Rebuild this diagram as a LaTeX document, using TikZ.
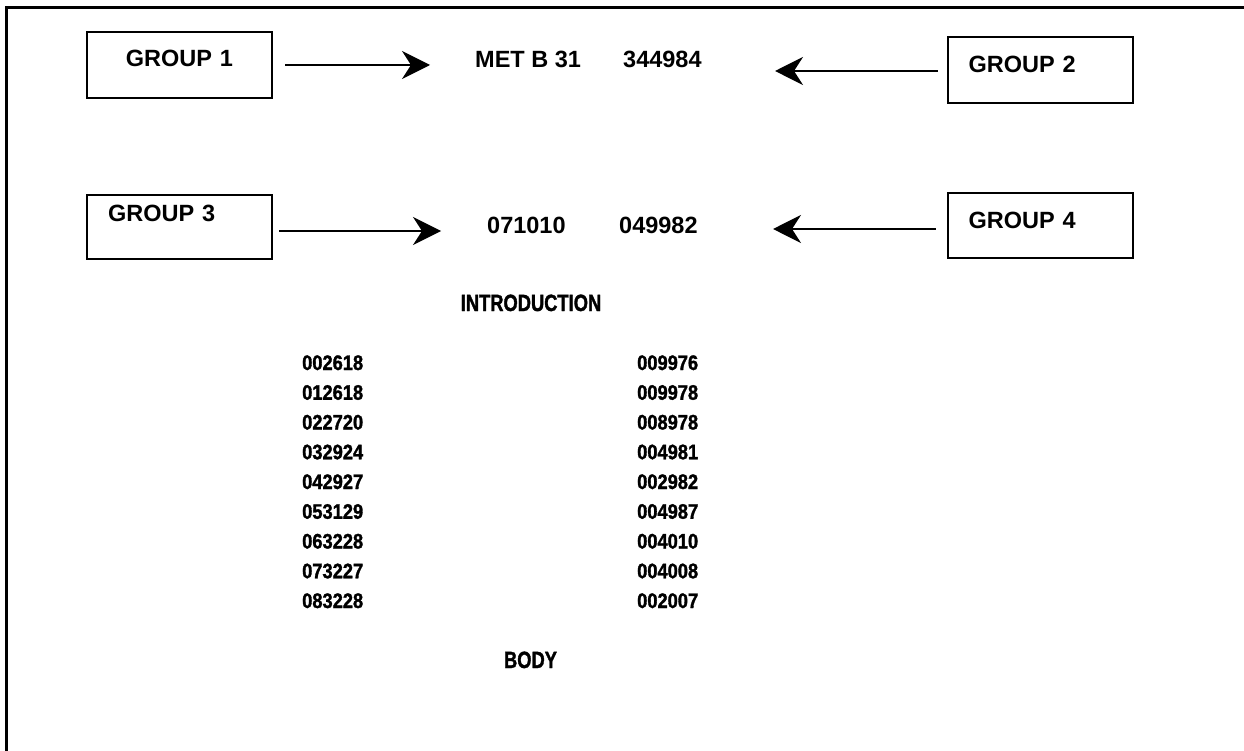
\documentclass[tikz,border=0pt]{standalone}
\usepackage{fontspec}
\setmainfont{Liberation Sans}
\newfontfamily\condfont[FakeStretch=0.78, BoldFeatures={FakeBold=1.5}]{Liberation Sans}
\newfontfamily\listfont[FakeStretch=0.87, BoldFeatures={FakeBold=1.5}]{Liberation Sans}
\usepackage{tikz}
\usetikzlibrary{arrows.meta, positioning}

\tikzset{
  grpbox/.style={draw, line width=2pt, rectangle, inner ysep=0pt, inner xsep=21pt,
    text width=143pt, align=left, font=\fontsize{23.5}{28}\selectfont\bfseries},
  toptxt/.style={anchor=base west, inner sep=0pt, font=\fontsize{23.5}{28}\selectfont\bfseries},
  headtxt/.style={anchor=base, inner sep=0pt, font=\condfont\fontsize{23.5}{28}\selectfont\bfseries},
  numtxt/.style={anchor=base west, inner sep=0pt, font=\listfont\fontsize{21}{25}\selectfont\bfseries},
  arr/.style={-{Stealth[length=28pt, width=28pt, inset=9pt]}, line width=1.5pt}
}

\begin{document}
\begin{tikzpicture}[x=1pt, y=-1pt]
\useasboundingbox (0,0) rectangle (1244,751);
% frame, top and left only
\draw[line width=3pt] (6.5,751) -- (6.5,8) -- (1244,8);

% the four groups
\node[grpbox, align=center, text height=35pt, text depth=31pt] (g1) at (179.5,65) {GROUP 1};
\node[grpbox, text height=36pt, text depth=30pt] (g2) at (1040,70) {GROUP 2};
\node[grpbox, text height=27pt, text depth=37pt] (g3) at (179.5,227) {GROUP 3};
\node[grpbox, text height=36pt, text depth=29pt] (g4) at (1040,225.5) {GROUP 4};

% what they point at
\node[toptxt] (met) at (475,68) {MET B 31};
\node[toptxt] (met2) at (623,68) {344984};
\node[toptxt] (code1) at (487,234) {071010};
\node[toptxt] (code2) at (619,234) {049982};
\coordinate (t1) at (430,65);
\coordinate (t2) at (775,71);
\coordinate (t3) at (441,231);
\coordinate (t4) at (773,229);

\draw[arr] ([xshift=12pt]g1.east) -- (t1);
\draw[arr] ([xshift=-9pt,yshift=-1pt]g2.west) -- (t2);
\draw[arr] ([xshift=6pt,yshift=-4pt]g3.east) -- (t3);
\draw[arr] ([xshift=-11pt,yshift=-3.5pt]g4.west) -- (t4);

\node[headtxt] (intro) at (531,311) {INTRODUCTION};

% two columns of numbers
\foreach \l/\r [count=\i] in {002618/009976, 012618/009978, 022720/008978,
    032924/004981, 042927/002982, 053129/004987, 063228/004010,
    073227/004008, 083228/002007} {
  \node[numtxt] (left\i) at (302,{370+29.75*(\i-1)}) {\l};
  \node[numtxt] (right\i) at (637,{370+29.75*(\i-1)}) {\r};
}

\node[headtxt] (body) at (530.5,668) {BODY};
\end{tikzpicture}
\end{document}
